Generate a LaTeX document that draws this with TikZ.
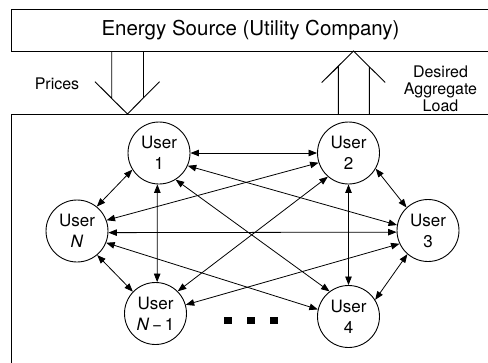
\documentclass[tikz,border=0pt]{standalone}
\usepackage{fontspec}
\setmainfont{TeX Gyre Heros}
\usetikzlibrary{arrows.meta}
\tikzset{
  user/.style={circle, draw, line width=0.9pt, minimum size=62pt, inner sep=0pt, align=center,
    font=\fontsize{17}{21}\selectfont},
  dbl/.style={line width=0.8pt, {Triangle[length=8.5pt,width=6.5pt]}-{Triangle[length=8.5pt,width=6.5pt]}},
  frame/.style={draw, line width=0.9pt},
  hollow/.style={line width=0.9pt, line join=miter},
  lbl/.style={font=\fontsize{16}{17}\selectfont, align=center, inner sep=0pt},
  dot/.style={fill=black, minimum width=8pt, minimum height=7.5pt, inner sep=0pt}
}
\begin{document}
\begin{tikzpicture}[x=1pt,y=-1pt]
\useasboundingbox (0,0) rectangle (488,362);
\clip (0,0) rectangle (488,362);
% boxes
\node[frame, anchor=north west, minimum width=500pt, minimum height=42pt, inner sep=0pt] (src) at (11,9) {};
\node[font=\fontsize{20.5}{24}\selectfont, inner sep=0pt] (srctxt) at (250.5,30) {Energy Source (Utility Company)};
\node[frame, anchor=north west, minimum width=500pt, minimum height=260pt, inner sep=0pt] (users) at (11,114) {};
% prices arrow
\draw[hollow] (111.7,51) -- (111.7,98.2) -- (95,81.7) -- (127.4,114) -- (159.6,81.7) -- (143.3,98);
\draw[hollow] (143.3,98) -- (143.3,51);
\node[lbl] (prices) at (57,83.5) {Prices};
% desired load arrow
\draw[hollow] (338.3,114) -- (338.3,66.5) -- (321.7,82.5) -- (353.5,51) -- (385.2,82.5) -- (369.3,66.7) -- (369.3,114);
\node[lbl] (load) at (440.5,88.5) {Desired\\Aggregate\\Load};
% users
\node[user] (u1) at (159,153) {User\\1};
\node[user] (u2) at (348.5,153) {User\\2};
\node[user] (uN) at (77,231) {User\\\textit{N}};
\node[user] (u3) at (428,230.5) {User\\3};
\node[user] (uN1) at (155.5,313.5) {User\\\textit{N}\,−\,1};
\node[user] (u4) at (348.5,316.5) {User\\4};
% dots
\node[dot] (d1) at (227.5,320.5) {};
\node[dot] (d2) at (251,320.5) {};
\node[dot] (d3) at (274.2,320.5) {};
% edges
\draw[dbl] (u1.0) -- (u2.180);
\draw[dbl] (u1.212) -- (uN.51);
\draw[dbl] (u1.267) -- (uN1.87);
\draw[dbl] (u1.336) -- (u3.170);
\draw[dbl] (u1.302) -- (u4.127);
\draw[dbl] (u2.198) -- (uN.20);
\draw[dbl] (u2.229) -- (uN1.45);
\draw[dbl] (u2.330) -- (u3.133);
\draw[dbl] (u2.270) -- (u4.90);
\draw[dbl] (u3.183) -- (uN.357);
\draw[dbl] (u3.205) -- (uN1.16);
\draw[dbl] (u3.229) -- (u4.32);
\draw[dbl] (u4.167) -- (uN.338);
\draw[dbl] (uN.310) -- (uN1.136);
\end{tikzpicture}
\end{document}
